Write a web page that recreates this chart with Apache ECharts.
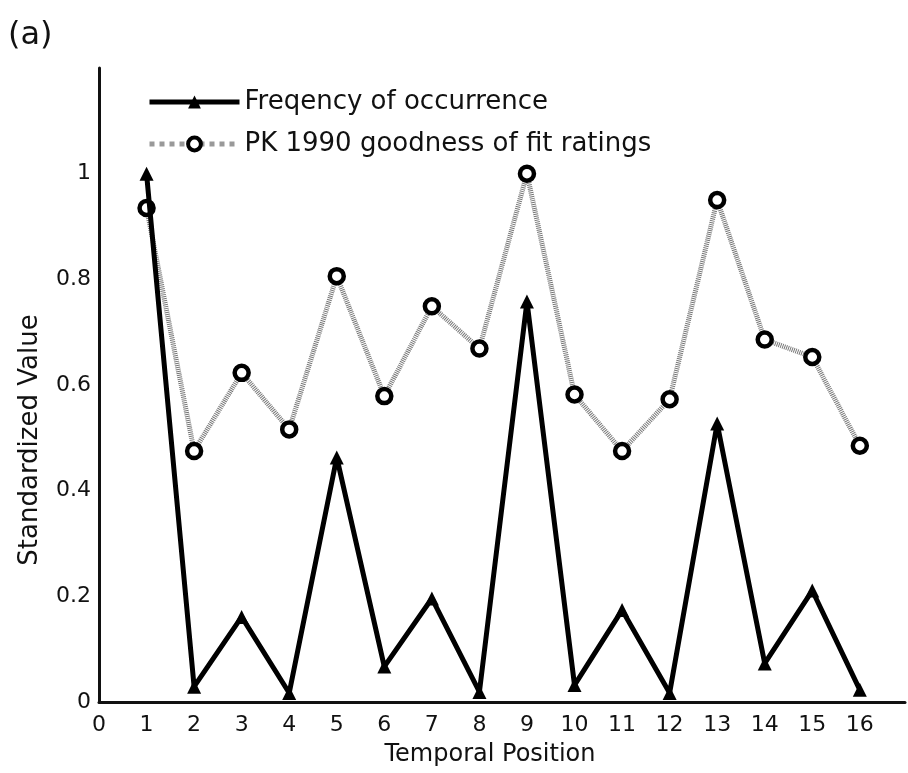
<!DOCTYPE html>
<html><head><meta charset="utf-8">
<script src="https://cdn.jsdelivr.net/npm/echarts@6/dist/echarts.min.js"></script>
<style>html,body{margin:0;padding:0;background:#fff}#c{width:908px;height:773px}</style>
</head><body><div id="c"></div>
<script>
const positions = [1,2,3,4,5,6,7,8,9,10,11,12,13,14,15,16];
const frequency = [1.0,0.029,0.161,0.017,0.463,0.067,0.196,0.019,0.758,0.032,0.174,0.017,0.527,0.073,0.211,0.023];
const pkRatings = [0.935,0.475,0.623,0.516,0.806,0.579,0.749,0.669,1.0,0.582,0.475,0.573,0.950,0.686,0.653,0.485];
const seriesNames = ['Freqency of occurrence','PK 1990 goodness of fit ratings'];
const yTickLabels = {0:'0',0.2:'0.2',0.4:'0.4',0.6:'0.6',0.8:'0.8',1:'1'};

const FONT = 'DejaVu Sans';
const chart = echarts.init(document.getElementById('c'));
chart.setOption({
  animation:false,
  backgroundColor:'#fff',
  textStyle:{fontFamily:FONT,color:'#000'},
  grid:{left:99,top:68,right:0,bottom:71,containLabel:false},
  legend:{
    left:142, top:84, orient:'vertical', itemGap:16, itemWidth:90, itemHeight:16,
    textStyle:{fontSize:26,color:'#111',fontFamily:FONT,fontWeight:'normal'},
    data:[
      {name:seriesNames[0],itemStyle:{color:'#000'},lineStyle:{width:5,color:'#000'}},
      {name:seriesNames[1],itemStyle:{color:'#fff',borderColor:'#000',borderWidth:4},lineStyle:{width:5,color:'#999',type:'dotted'}}
    ]
  },
  graphic:[
    {type:'text',left:8,top:20,style:{text:'(a)',fontSize:32,fontFamily:FONT,fill:'#111'}},
    {type:'text',x:30,y:440,rotation:Math.PI/2,style:{text:'Standardized Value',fontSize:26,fontFamily:FONT,fill:'#111',align:'center',verticalAlign:'middle'}}
  ],
  xAxis:{
    type:'value',min:0,max:16.95,interval:1,
    axisLine:{lineStyle:{color:'#111',width:3}},
    axisTick:{show:false},splitLine:{show:false},
    axisLabel:{fontSize:22,color:'#111',margin:12,formatter:v=>v>16?'':String(v)},
    name:'Temporal Position',nameLocation:'middle',nameGap:41,
    nameTextStyle:{fontSize:24,color:'#111',padding:[0,24,0,0]}
  },
  yAxis:{
    type:'value',min:0,max:1.2,interval:0.2,
    axisLine:{show:true,lineStyle:{color:'#111',width:3}},
    axisTick:{show:false},splitLine:{show:false},
    axisLabel:{fontSize:22,color:'#111',margin:8,formatter:v=>{const k=Math.round(v*10)/10;return yTickLabels[k]!==undefined?yTickLabels[k]:'';}}
  },
  series:[
    {name:seriesNames[0],type:'line',data:positions.map((p,i)=>[p,frequency[i]]),
     symbol:'triangle',symbolSize:14,
     lineStyle:{color:'#000',width:5},itemStyle:{color:'#000'},z:3},
    {name:seriesNames[1],type:'line',data:positions.map((p,i)=>[p,pkRatings[i]]),
     symbol:'circle',symbolSize:14,
     lineStyle:{color:'#777',width:5,type:[1,1]},
     itemStyle:{color:'#fff',borderColor:'#000',borderWidth:4.5},z:2}
  ]
});
</script></body></html>
